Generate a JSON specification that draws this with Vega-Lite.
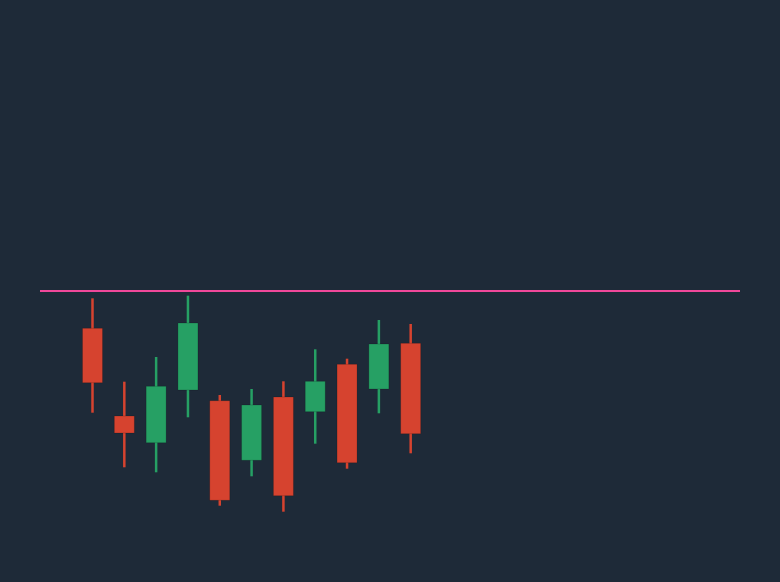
{
  "$schema": "https://vega.github.io/schema/vega-lite/v6.json",
  "width": 700,
  "height": 500,
  "autosize": {"type": "none"},
  "padding": {"left": 40, "top": 40, "right": 40, "bottom": 42},
  "background": "#1e2a38",
  "config": {"view": {"stroke": null}},
  "data": {
    "values": [
      {"i": 1, "open": 121.17, "high": 124.17, "low": 112.73, "close": 115.73},
      {"i": 2, "open": 112.4, "high": 115.83, "low": 107.27, "close": 110.7},
      {"i": 3, "open": 109.73, "high": 118.3, "low": 106.77, "close": 115.37},
      {"i": 4, "open": 115.0, "high": 124.43, "low": 112.27, "close": 121.7},
      {"i": 5, "open": 113.93, "high": 114.5, "low": 103.43, "close": 103.97},
      {"i": 6, "open": 107.97, "high": 115.1, "low": 106.37, "close": 113.5},
      {"i": 7, "open": 114.3, "high": 115.87, "low": 102.83, "close": 104.43},
      {"i": 8, "open": 112.83, "high": 119.07, "low": 109.63, "close": 115.87},
      {"i": 9, "open": 117.57, "high": 118.13, "low": 107.13, "close": 107.73},
      {"i": 10, "open": 115.1, "high": 122.0, "low": 112.67, "close": 119.6},
      {"i": 11, "open": 119.67, "high": 121.6, "low": 108.67, "close": 110.63}
    ]
  },
  "layer": [
    {
      "mark": {"type": "rule", "strokeWidth": 2.5},
      "encoding": {
        "x": {"field": "i", "type": "quantitative", "scale": {"domain": [-0.65, 21.35], "nice": false, "zero": false, "padding": 0}, "axis": null},
        "y": {"field": "low", "type": "quantitative", "scale": {"domain": [100, 150], "nice": false, "zero": false}, "axis": null},
        "y2": {"field": "high"},
        "color": {"condition": {"test": "datum.close > datum.open", "value": "#26a064"}, "value": "#d6432f"}
      }
    },
    {
      "mark": {"type": "bar", "width": 20, "strokeWidth": 0.8, "stroke": "#00000033"},
      "encoding": {
        "x": {"field": "i", "type": "quantitative"},
        "y": {"field": "open", "type": "quantitative"},
        "y2": {"field": "close"},
        "color": {"condition": {"test": "datum.close > datum.open", "value": "#26a064"}, "value": "#d6432f"}
      }
    },
    {
      "data": {"values": [{"level": 124.9}]},
      "mark": {"type": "rule", "color": "#f0489a", "strokeWidth": 2},
      "encoding": {
        "y": {"field": "level", "type": "quantitative"}
      }
    }
  ]
}
